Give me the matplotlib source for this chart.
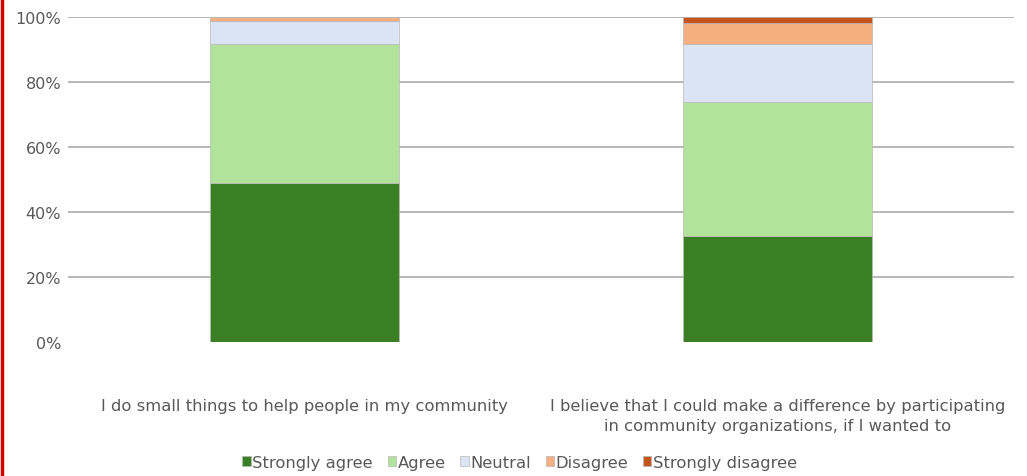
import matplotlib
matplotlib.use("Agg")
import matplotlib.pyplot as plt
from matplotlib.lines import Line2D
import numpy as np

statements = [
    "I do small things to help people in my community",
    "I believe that I could make a difference by participating\nin community organizations, if I wanted to",
]
responses = ["Strongly agree", "Agree", "Neutral", "Disagree", "Strongly disagree"]
strongly_agree = [49.0, 32.6]
agree = [42.8, 41.4]
neutral = [7.1, 17.8]
disagree = [1.1, 6.5]
strongly_disagree = [0.0, 1.7]
colors = ["#3b7f24", "#b2e39c", "#dae4f5", "#f4ae80", "#c5531a"]

plt.rcParams['font.family'] = ['DejaVu Sans']
text_color = "#595959"


def main():
    fig = plt.figure(figsize=(10.27, 4.77), dpi=100)
    ax = fig.add_axes([0.0662, 0.281, 0.921, 0.681])

    series = [strongly_agree, agree, neutral, disagree, strongly_disagree]
    x = np.arange(len(statements))
    bottom = np.zeros(len(statements))
    for name, vals, col in zip(responses, series, colors):
        ax.bar(x, vals, 0.4, bottom=bottom, color=col, label=name,
               edgecolor="#b8b8b8", linewidth=0.5, zorder=3)
        bottom += np.array(vals)

    ax.set_xlim(-0.5, 1.5)
    ax.set_ylim(0, 100)
    ax.set_yticks([0, 20, 40, 60, 80, 100])
    ax.set_yticklabels(["0%", "20%", "40%", "60%", "80%", "100%"])
    for yv in [20, 40, 60, 80, 100]:
        ax.axhline(yv, color="#aaaaaa", linewidth=1.2, zorder=1)
    ax.set_xticks(x)
    ax.set_xticklabels(statements, multialignment="center", linespacing=1.45)
    ax.tick_params(axis="y", length=0, pad=5, labelsize=11.5, labelcolor=text_color)
    ax.tick_params(axis="x", length=0, pad=40, labelsize=11.8, labelcolor=text_color)
    for s in ax.spines.values():
        s.set_visible(False)

    fig.legend(loc="center", bbox_to_anchor=(0.506, 0.029), ncol=5,
               frameon=False, fontsize=11.8, labelcolor=text_color,
               handlelength=0.5, handleheight=0.5, handletextpad=0.1,
               columnspacing=0.9)

    # red border line on the left edge
    fig.add_artist(Line2D([0.0015, 0.0015], [0, 1], color="#d40000",
                          linewidth=2.5, transform=fig.transFigure))

    fig.savefig("out.png", dpi=100)


if __name__ == "__main__":
    main()
